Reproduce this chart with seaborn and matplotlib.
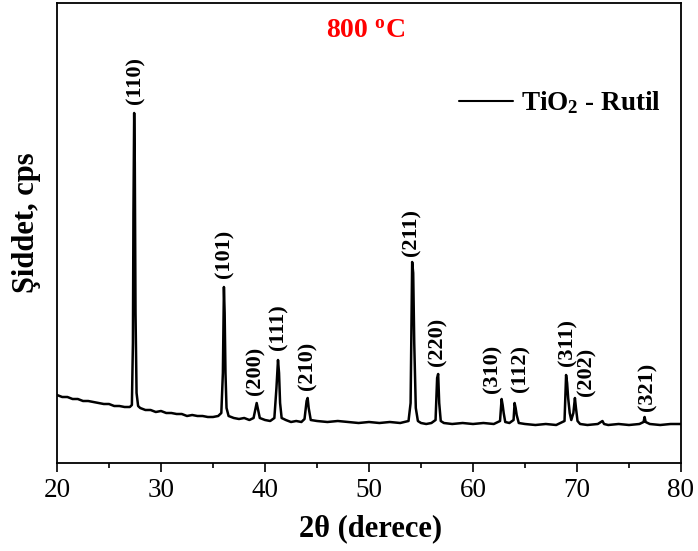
import matplotlib
matplotlib.use("Agg")
import matplotlib.pyplot as plt
import seaborn as sns
import pandas as pd
from matplotlib.ticker import MultipleLocator

# ---- data ----
two_theta = [
    20.0, 20.5, 21.0, 21.5, 22.0, 22.5, 23.0, 23.5, 24.0, 24.5, 25.0, 25.5, 26.0, 26.5, 27.0,
    27.2, 27.3, 27.35, 27.42, 27.48, 27.55, 27.65, 27.8,
    28.0, 28.5, 29.0, 29.5, 30.0, 30.5, 31.0, 31.5, 32.0, 32.5, 33.0, 33.5, 34.0, 34.5, 35.0, 35.5,
    35.8, 35.95, 36.05, 36.12, 36.2, 36.3, 36.5,
    37.0, 37.5, 38.0, 38.5, 38.9, 39.1, 39.2, 39.3, 39.5,
    40.0, 40.5, 40.9, 41.1, 41.25, 41.35, 41.45, 41.6,
    42.0, 42.5, 43.0, 43.5, 43.8, 44.0, 44.1, 44.2, 44.4,
    45.0, 46.0, 47.0, 48.0, 49.0, 50.0, 51.0, 52.0, 53.0,
    53.8, 54.0, 54.15, 54.25, 54.35, 54.5, 54.7,
    55.0, 55.5, 56.0, 56.4, 56.55, 56.65, 56.75, 56.9, 57.2,
    58.0, 59.0, 60.0, 61.0, 62.0, 62.6, 62.75, 62.85, 62.95, 63.1,
    63.5, 63.9, 64.0, 64.1, 64.2, 64.4,
    65.0, 66.0, 67.0, 68.0, 68.8, 68.95, 69.05, 69.15, 69.3, 69.45, 69.65, 69.8, 69.9, 70.05, 70.3,
    71.0, 72.0, 72.3, 72.45, 72.6, 73.0, 74.0, 75.0, 76.0, 76.4, 76.5, 76.6,
    77.0, 78.0, 79.0, 80.0,
]
intensity = [
    68, 66, 66, 64, 64, 62, 62, 61, 60, 59, 59, 57, 57, 56, 56,
    58, 120, 250, 350, 300, 150, 70, 57,
    55, 53, 53, 51, 52, 50, 50, 49, 49, 47, 48, 47, 47, 46, 46, 47,
    50, 90, 176, 150, 90, 55, 47,
    45, 44, 45, 43, 45, 55, 60, 55, 45,
    43, 42, 45, 75, 103, 90, 60, 45,
    43, 41, 42, 41, 44, 62, 65, 55, 43,
    42, 41, 42, 41, 40, 41, 40, 41, 40,
    42, 60, 201, 190, 120, 55, 42,
    40, 39, 40, 43, 85, 89, 60, 42, 40,
    39, 40, 39, 40, 39, 42, 64, 58, 50, 41,
    40, 43, 60, 55, 48, 40,
    39, 38, 39, 38, 42, 88, 80, 65, 50, 43, 50, 65, 55, 42, 39,
    38, 39, 41, 42, 39, 38, 39, 38, 39, 41, 46, 41,
    39, 38, 39, 39,
]
peak_labels = ["(110)", "(101)", "(200)", "(111)", "(210)", "(211)", "(220)",
               "(310)", "(112)", "(311)", "(202)", "(321)"]
label_x = [27.5, 36.15, 39.13, 41.25, 44.04, 54.13, 56.54, 61.92, 64.52, 69.13, 70.96, 76.73]
label_y = [382, 209, 92, 136, 97, 231, 121, 94, 95, 120, 91, 76]

df = pd.DataFrame({"2θ": two_theta, "I": intensity})

# ---- style ----
sns.set_style("ticks")
plt.rcParams["font.family"] = ["Liberation Serif", "DejaVu Serif"]
plt.rcParams["text.color"] = "black"
plt.rcParams["axes.labelcolor"] = "black"
plt.rcParams["xtick.color"] = "black"
plt.rcParams["ytick.color"] = "black"
plt.rcParams["mathtext.fontset"] = "custom"
plt.rcParams["mathtext.rm"] = "Liberation Serif:bold"
plt.rcParams["mathtext.it"] = "Liberation Serif:bold"
plt.rcParams["mathtext.bf"] = "Liberation Serif:bold"

fig = plt.figure(figsize=(6.98, 5.51), dpi=100)
ax = fig.add_axes([57 / 698, 88 / 551, 624 / 698, 460 / 551])

sns.lineplot(data=df, x="2θ", y="I", ax=ax, color="black", linewidth=1.8,
             sort=False, estimator=None, label="TiO$_2$ - Rutil")

ax.set_xlim(20, 80)
ax.set_ylim(0, 460)
ax.xaxis.set_major_locator(MultipleLocator(10))
ax.xaxis.set_minor_locator(MultipleLocator(5))
ax.set_yticks([])
ax.tick_params(axis="x", which="major", direction="out", length=6.5, width=1.2,
               labelsize=19.5, pad=4, colors="black")
ax.tick_params(axis="x", which="minor", direction="out", length=3.5, width=1.2,
               colors="black")
for sp in ax.spines.values():
    sp.set_visible(True)
    sp.set_linewidth(1.3)
    sp.set_color("black")

ax.set_xlabel("2θ (derece)", fontsize=22, fontweight="bold", color="black")
ax.set_ylabel("Şiddet, cps", fontsize=22, fontweight="bold", color="black")
ax.xaxis.set_label_coords(0.503, -0.112)
ax.yaxis.set_label_coords(-0.026, 0.523)

for lab, lx, ly in zip(peak_labels, label_x, label_y):
    ax.text(lx, ly, lab, rotation=90, ha="center", va="center",
            fontsize=16, fontweight="bold", color="black")

ax.text(0.494, 0.939, "800 $^{o}$C", transform=ax.transAxes, ha="center",
        va="center", fontsize=20, fontweight="bold", color="#FF0000")

leg = ax.legend(loc="center left", bbox_to_anchor=(0.644, 0.7826), frameon=False,
                handlelength=2.0, handletextpad=0.3, borderpad=0, borderaxespad=0,
                prop={"size": 19.5, "weight": "bold", "family": "Liberation Serif"})
for text in leg.get_texts():
    text.set_color("black")
for line in leg.get_lines():
    line.set_linewidth(1.5)

fig.savefig("out.png", dpi=100, facecolor="white")
